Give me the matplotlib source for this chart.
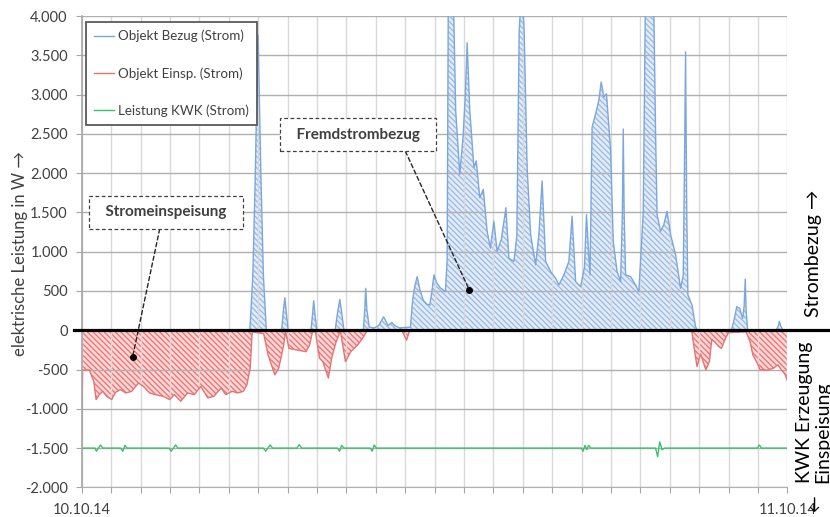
import numpy as np
import matplotlib
matplotlib.use("Agg")
import matplotlib.pyplot as plt
from matplotlib.ticker import FixedLocator

plt.rcParams['font.family'] = ['Lato', 'DejaVu Sans']
plt.rcParams['hatch.linewidth'] = 1.0

# --- data (hours since 10.10.14 00:00, power in W) ---
hours_bezug = [0, 5.72, 5.82, 5.9, 5.96, 6.0, 6.04, 6.1, 6.18, 6.28,
               6.8, 6.86, 6.91, 6.96, 7.02, 7.8, 7.85, 7.89, 7.94, 8.0,
               8.62, 8.7, 8.78, 8.84, 8.92, 9.58, 9.63, 9.66, 9.7, 9.78,
               9.95, 10.1, 10.27, 10.42, 10.55, 10.65, 10.8, 11.18, 11.26,
               11.33, 11.41, 11.5, 11.62, 11.75, 11.84, 11.92, 11.98,
               12.08, 12.2, 12.37, 12.43, 12.47, 12.55, 12.64, 12.72,
               12.86, 12.97, 13.05, 13.11, 13.2, 13.34, 13.42, 13.54,
               13.66, 13.79, 13.9, 14.02, 14.13, 14.27, 14.43, 14.53,
               14.7, 14.8, 14.88, 14.97, 15.05, 15.15, 15.27, 15.44,
               15.55, 15.66, 15.78, 15.95, 16.12, 16.23, 16.4, 16.57,
               16.68, 16.8, 16.97, 17.1, 17.17, 17.24, 17.29, 17.36,
               17.48, 17.59, 17.67, 17.76, 17.85, 17.99, 18.08, 18.21,
               18.33, 18.39, 18.42, 18.45, 18.5, 18.67, 18.84, 18.95,
               19.1, 19.17, 19.3, 19.46, 19.52, 19.57, 19.69, 19.8, 19.91,
               20.03, 20.2, 20.37, 20.46, 20.5, 20.54, 20.58, 20.62,
               20.76, 20.88, 20.95, 22.1, 22.2, 22.28, 22.38, 22.48,
               22.53, 22.57, 22.6, 22.65, 23.62, 23.7, 23.73, 23.77,
               23.85, 24]
bezug = [0, 0, 700, 1900, 3100, 3757, 3000, 1900, 700, 0,
         0, 250, 414, 220, 0, 0, 200, 376, 180, 0,
         0, 220, 393, 230, 0, 0, 280, 534, 260, 40,
         30, 60, 171, 60, 100, 60, 30, 40, 400,
         560, 683, 520, 380, 330, 320, 520, 705,
         600, 540, 491, 900, 4300, 4800, 4300, 2800,
         1985, 2455, 3000, 3659, 2800, 2071, 2156, 1687,
         1793, 1260, 1046, 1388, 1003, 1153, 1559, 918,
         875, 1200, 3800, 4400, 3800, 2071, 1217, 833,
         1217, 1900, 875, 747, 662, 576, 705, 875,
         1452, 619, 555, 800, 1473, 1000, 705, 2583,
         2754, 2925, 3160, 2968, 3010, 2284, 1132, 747,
         619, 1500, 2562, 1500, 705, 683, 576, 491,
         1500, 4100, 5000, 4100, 2500, 1473, 1260, 1345, 1516,
         1217, 961, 534, 700, 2000, 3544, 1500, 448,
         320, 43, 0, 0, 150, 300, 280, 150,
         300, 650, 250, 0, 0, 60, 115, 60,
         0, 0]

hours_einsp = [0, 0.03, 0.26, 0.41, 0.49, 0.6, 0.71, 0.85, 1.02, 1.15,
               1.32, 1.5, 1.7, 1.93, 2.1, 2.31, 2.5, 2.77, 2.99, 3.15,
               3.37, 3.6, 3.83, 4.05, 4.29, 4.5, 4.74, 4.9, 5.12, 5.3,
               5.5, 5.62, 5.73, 5.8, 6.19, 6.34, 6.57, 6.7, 6.87, 6.93,
               7.05, 7.33, 7.63, 7.75, 7.85, 7.95, 8.09, 8.2, 8.39, 8.5,
               8.65, 8.8, 8.97, 9.15, 9.38, 9.55, 9.7, 10.9, 11.05, 11.15,
               20.75, 20.85, 20.93, 21.05, 21.23, 21.35, 21.43, 21.53,
               21.65, 21.76, 21.9, 22.0, 22.6, 22.73, 22.83, 22.98, 23.07,
               23.3, 23.53, 23.68, 23.8, 23.92, 24]
einsp = [-1380, -510, -504, -651, -882, -820, -777, -840, -882, -790,
         -756, -798, -777, -672, -714, -798, -819, -840, -882, -819,
         -903, -798, -819, -714, -861, -840, -735, -819, -777, -798,
         -777, -693, -483, -21, -42, -315, -567, -483, -189, -10,
         -231, -252, -273, -189, -20, -20, -357, -399, -609, -357,
         -150, -10, -399, -273, -189, -105, -10, -10, -126, -10,
         -10, -273, -462, -300, -504, -399, -120, -147,
         -200, -231, -100, -30, -20, -141, -315, -420, -500,
         -510, -483, -440, -504, -560, -640]

hours_kwk = [0, 0.45, 0.5, 0.57, 0.64, 0.72, 1.33, 1.4, 1.47, 1.54,
             2.97, 3.04, 3.12, 3.19, 3.27, 6.18, 6.26, 6.33, 6.41, 6.49,
             7.32, 7.4, 7.48, 8.7, 8.77, 8.84, 8.92, 9.82, 9.88, 9.95,
             10.02, 17.0, 17.05, 17.12, 17.18, 17.24, 17.32, 19.52, 19.59,
             19.66, 19.74, 19.82, 22.98, 23.05, 23.12, 24]
kwk = [-1500, -1500, -1540, -1500, -1460, -1500, -1500, -1540, -1465, -1500,
       -1500, -1540, -1500, -1460, -1500, -1500, -1540, -1500, -1460, -1500,
       -1500, -1455, -1500, -1500, -1540, -1465, -1500, -1500, -1540, -1460,
       -1500, -1500, -1540, -1465, -1520, -1465, -1500, -1500, -1610,
       -1420, -1520, -1500, -1500, -1460, -1500, -1500]

y_ticks = [-2000, -1500, -1000, -500, 0, 500, 1000, 1500, 2000, 2500, 3000, 3500, 4000]
y_tick_labels = ['-2.000', '-1.500', '-1.000', '-500', '0', '500', '1.000',
                 '1.500', '2.000', '2.500', '3.000', '3.500', '4.000']
x_hours = list(range(25))
x_date_labels = ['10.10.14'] + [''] * 23 + ['11.10.14']

labels = ['Objekt Bezug (Strom)', 'Objekt Einsp. (Strom)', 'Leistung KWK (Strom)']
annot_points = [(1.73, -341), (13.18, 515)]
annot_text_pos = [(2.86, 1500), (9.4, 2490)]
annot_texts = ['  Stromeinspeisung  ', '  Fremdstrombezug  ']

blue = '#7ba7dc'
blue_face = '#e4ecf7'
blue_hatch = '#9dbde6'
red = '#e57373'
red_face = '#fcdada'
red_hatch = '#f37575'
green = '#3dbf6c'
text_grey = '#404040'

fig = plt.figure(figsize=(8.3, 5.17), dpi=100)
ax = fig.add_axes([81.7 / 830, 1 - 487.4 / 517, 705.6 / 830, 471.4 / 517])

ax.fill_between(hours_bezug, bezug, 0, facecolor=blue_face, edgecolor=blue_hatch,
                hatch='\\' * 6, linewidth=0)
ax.fill_between(hours_einsp, einsp, 0, facecolor=red_face, edgecolor=red_hatch,
                hatch='\\' * 6, linewidth=0)
ax.plot(hours_bezug, bezug, color=blue, lw=1.0, label=labels[0])
ax.plot(hours_einsp, einsp, color=red, lw=1.0, label=labels[1])
ax.plot(hours_kwk, kwk, color=green, lw=1.0, label=labels[2])

ax.axhline(0, xmin=-0.011, xmax=1.07, color='black', lw=2.3, clip_on=False, zorder=5)

ax.set_xlim(0, 24)
ax.set_ylim(-2000, 4000)
ax.yaxis.set_major_locator(FixedLocator(y_ticks))
ax.set_yticklabels(y_tick_labels)
ax.xaxis.set_major_locator(FixedLocator(x_hours))
ax.set_xticklabels(x_date_labels)

ax.set_axisbelow('line')
ax.grid(axis='y', color='#b0b0b0', lw=1.0)
ax.grid(axis='x', color='#d9d9d9', lw=1.0)
for s in ['top', 'right']:
    ax.spines[s].set_visible(False)
ax.spines['left'].set_color('#a6a6a6')
ax.spines['left'].set_linewidth(1.2)
ax.spines['bottom'].set_color('#b0b0b0')
ax.tick_params(axis='y', length=4, color='#a6a6a6', labelsize=10.5,
               labelcolor=text_grey, pad=6)
ax.tick_params(axis='x', length=4, color='#a6a6a6', labelsize=10.5,
               labelcolor=text_grey, pad=7)

leg = ax.legend(loc='upper left', bbox_to_anchor=(0.006, 0.988), borderaxespad=0,
                fancybox=False, framealpha=1, edgecolor='#595959', fontsize=9.6,
                handlelength=1.45, handletextpad=0.3, labelspacing=1.85,
                borderpad=0.62)
leg.get_frame().set_linewidth(1.3)
for t in leg.get_texts():
    t.set_color(text_grey)

rel = [(0.47, 0), (0.81, 0)]
for (px, py), (tx, ty), txt, rp in zip(annot_points, annot_text_pos, annot_texts, rel):
    ax.annotate(txt, xy=(px, py), xytext=(tx, ty), ha='center', va='center',
                fontsize=11, fontweight='bold', color=text_grey, zorder=6,
                bbox=dict(boxstyle='square,pad=0.6', fc='white', ec='#404040',
                          ls=(0, (3, 2)), lw=0.9),
                arrowprops=dict(arrowstyle='-', ls=(0, (3, 2)), color='#262626',
                                lw=1.0, shrinkA=0, shrinkB=0, relpos=rp))
    ax.plot(px, py, 'o', color='black', ms=4, zorder=7)

fig.text(20 / 830, 1 - 254 / 517, 'elektrische Leistung in W →', rotation=90,
         ha='center', va='center', fontsize=12, color=text_grey)
fig.text(813 / 830, 1 - 317 / 517, 'Strombezug →', rotation=90,
         ha='center', va='bottom', fontsize=14, color='black')
fig.text(796 / 830, 1 - 483 / 517, 'KWK Erzeugung\nEinspeisung', rotation=90,
         ha='left', va='bottom', fontsize=14, color='black', linespacing=1.1)
fig.text(815 / 830, 1 - 504 / 517, '←', rotation=90,
         ha='center', va='center', fontsize=12, color='black')

fig.savefig('out.png', dpi=100)
